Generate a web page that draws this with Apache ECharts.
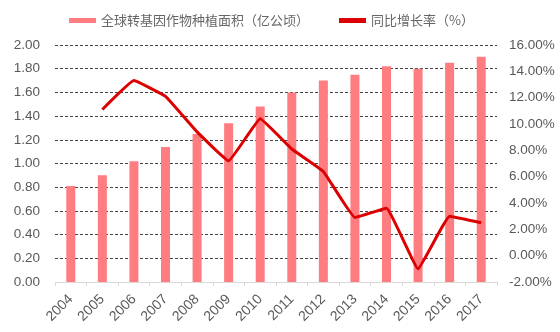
<!DOCTYPE html>
<html>
<head>
<meta charset="utf-8">
<script src="https://cdn.jsdelivr.net/npm/echarts@6/dist/echarts.min.js"></script>
<style>
  html, body { margin: 0; padding: 0; background: #fff; }
  #chart { width: 560px; height: 332px; }
</style>
</head>
<body>
<div id="chart"></div>
<script>
// Years on the category axis
const years = ['2004', '2005', '2006', '2007', '2008', '2009', '2010',
               '2011', '2012', '2013', '2014', '2015', '2016', '2017'];
// Global GM crop planting area (hundred million hectares)
const area = [0.81, 0.90, 1.02, 1.14, 1.25, 1.34, 1.48,
              1.60, 1.70, 1.75, 1.82, 1.80, 1.85, 1.90];
// Year-on-year growth (%), no value for the first year
const growth = [null, 11.1, 13.3, 12.1, 9.4, 7.2, 10.4,
                8.1, 6.4, 2.9, 3.6, -1.0, 3.0, 2.5];
const seriesNames = ['全球转基因作物种植面积（亿公顷）', '同比增长率（%）'];

const labelFont = { fontFamily: 'Liberation Sans, Arial, sans-serif', fontSize: 13.5, color: '#595959' };

const chart = echarts.init(document.getElementById('chart'), null, { renderer: 'canvas' });
chart.setOption({
  animation: false,
  backgroundColor: '#ffffff',
  legend: {
    top: 9,
    left: 64,
    itemWidth: 27,
    itemHeight: 5,
    itemGap: 30,
    textStyle: { fontFamily: 'Noto Sans CJK SC', fontSize: 13, color: '#666666' },
    data: [
      { name: seriesNames[0], icon: 'rect' },
      { name: seriesNames[1], icon: 'rect' }
    ]
  },
  grid: { left: 55, right: 63, top: 45, bottom: 50, containLabel: false },
  xAxis: {
    type: 'category',
    data: years,
    boundaryGap: true,
    axisLine: { lineStyle: { color: '#d9d9d9', width: 1 } },
    axisTick: { show: true, length: 4, lineStyle: { color: '#d9d9d9' } },
    axisLabel: Object.assign({ rotate: 45, margin: 15, interval: 0 }, labelFont, { fontSize: 14 })
  },
  yAxis: [
    {
      type: 'value',
      min: 0, max: 2, interval: 0.2,
      axisLine: { show: false },
      axisTick: { show: false },
      axisLabel: Object.assign({ margin: 15, formatter: v => v.toFixed(2) }, labelFont),
      splitLine: { show: true, lineStyle: { color: '#444', type: [3, 2], width: 1 } }
    },
    {
      type: 'value',
      min: -2, max: 16, interval: 2,
      axisLine: { show: false },
      axisTick: { show: false },
      axisLabel: Object.assign({ margin: 12, formatter: v => v.toFixed(2) + '%' }, labelFont),
      splitLine: { show: false }
    }
  ],
  series: [
    {
      name: seriesNames[0],
      type: 'bar',
      yAxisIndex: 0,
      data: area,
      barWidth: 9,
      itemStyle: { color: '#ff7c80' }
    },
    {
      name: seriesNames[1],
      type: 'line',
      yAxisIndex: 1,
      data: growth,
      smooth: 0.08,
      showSymbol: false,
      symbol: 'none',
      lineStyle: { color: '#dd0000', width: 3 },
      itemStyle: { color: '#dd0000' }
    }
  ]
});
</script>
</body>
</html>
